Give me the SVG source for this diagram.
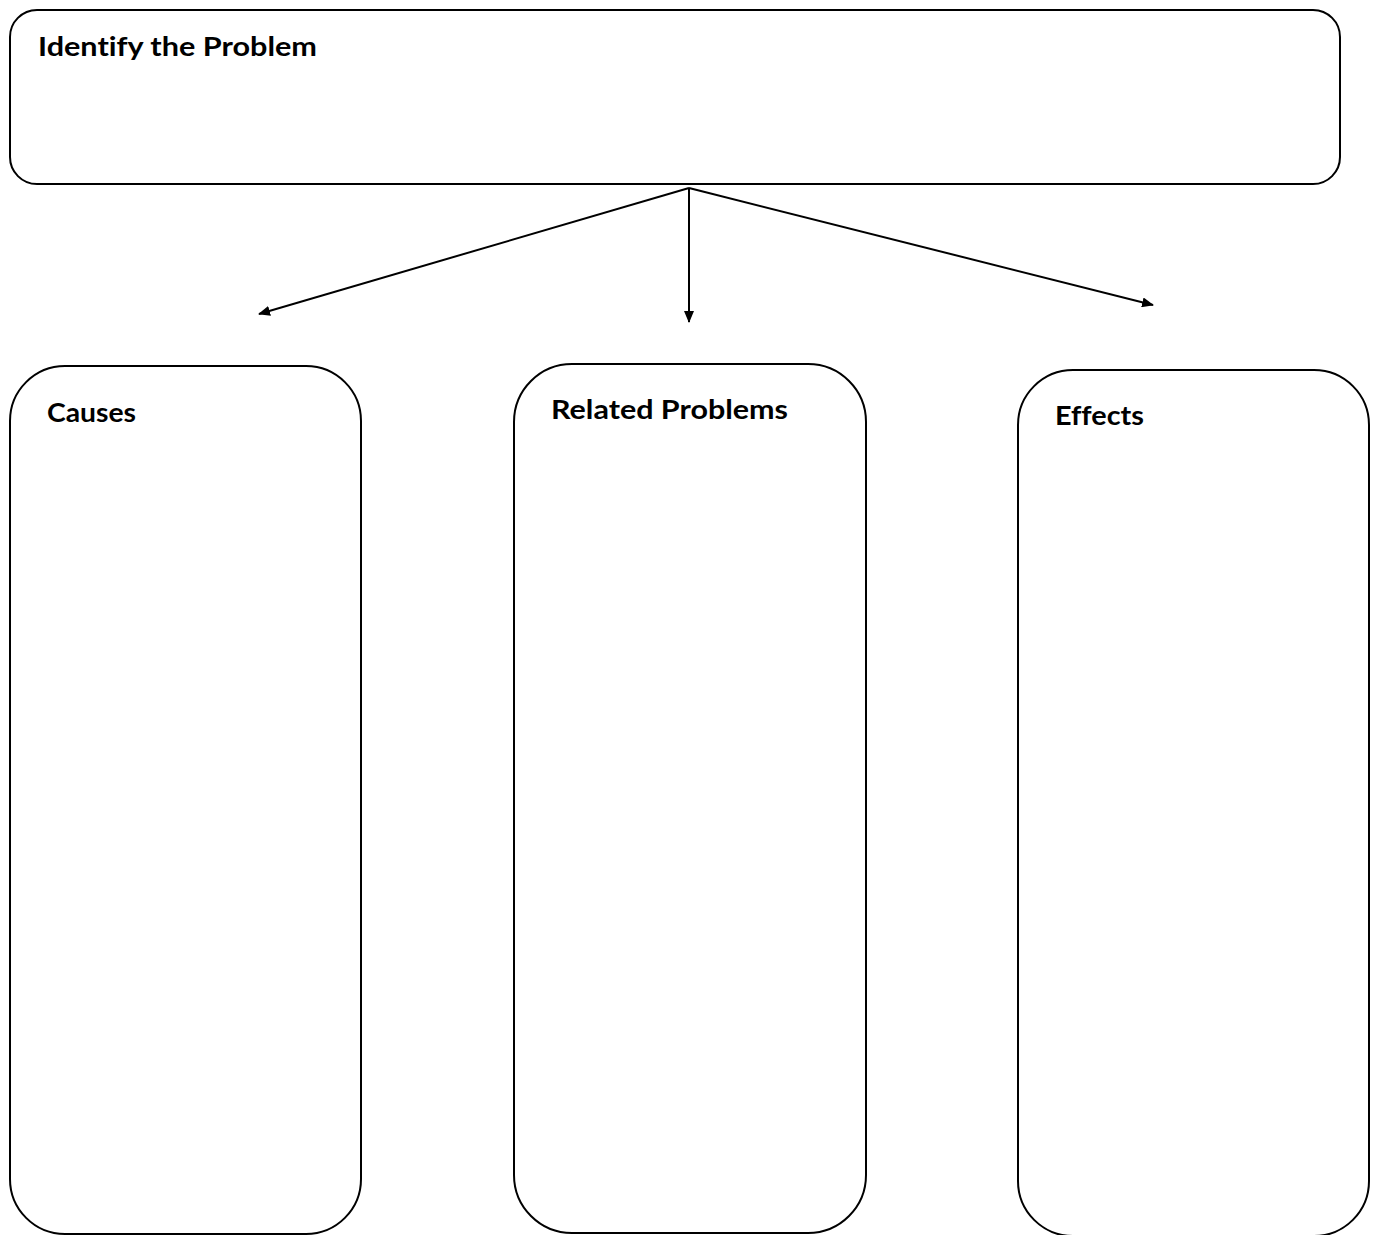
<svg xmlns="http://www.w3.org/2000/svg" width="1376" height="1235" viewBox="0 0 1376 1235">
<style>
.box{fill:#fff;stroke:#000;stroke-width:2}
.lbl{font-family:Lato,"Liberation Sans",sans-serif;font-weight:bold;font-size:27px;fill:#000;font-variant-ligatures:none}
.conn{stroke:#000;stroke-width:2;fill:none}
</style>
<defs>
<marker id="ah" viewBox="0 0 12 10" refX="11" refY="5" markerWidth="12" markerHeight="10" markerUnits="userSpaceOnUse" orient="auto">
<path d="M0,0 L12,5 L0,10 z" fill="#000"/>
</marker>
</defs>
<rect width="1376" height="1235" fill="#fff"/>
<g id="problem">
<rect class="box" x="10" y="10" width="1330" height="174" rx="27" ry="27"/>
<text class="lbl" x="38" y="56" textLength="279" lengthAdjust="spacingAndGlyphs">Identify the Problem</text>
</g>
<g id="causes">
<rect class="box" x="10" y="366" width="351" height="868" rx="55" ry="55"/>
<text class="lbl" x="47" y="422" textLength="89" lengthAdjust="spacingAndGlyphs">Causes</text>
</g>
<g id="related">
<rect class="box" x="514" y="364" width="352" height="869" rx="58" ry="58"/>
<text class="lbl" x="551" y="419" textLength="237" lengthAdjust="spacingAndGlyphs">Related Problems</text>
</g>
<g id="effects">
<rect class="box" x="1018" y="370" width="351" height="866" rx="55" ry="55"/>
<text class="lbl" x="1055" y="425" textLength="89" lengthAdjust="spacingAndGlyphs">Effects</text>
</g>
<g id="connectors">
<line class="conn" x1="689" y1="188" x2="259" y2="314" marker-end="url(#ah)"/>
<line class="conn" x1="689" y1="188" x2="689" y2="322" marker-end="url(#ah)"/>
<line class="conn" x1="689" y1="188" x2="1153" y2="305" marker-end="url(#ah)"/>
</g>
</svg>
